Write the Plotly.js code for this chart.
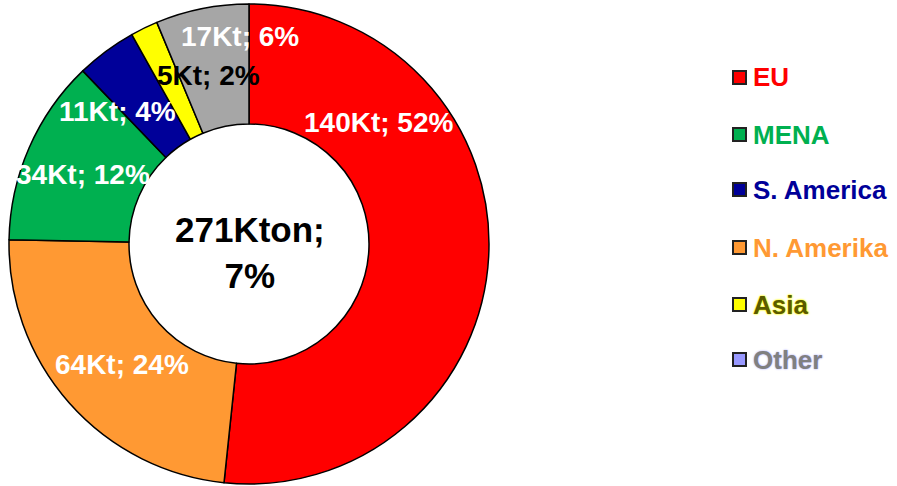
<!DOCTYPE html>
<html>
<head>
<meta charset="utf-8">
<script src="https://cdn.plot.ly/plotly-3.0.1.min.js"></script>
<style>html,body{margin:0;padding:0;background:#fff;}#chart{width:897px;height:486px;}</style>
</head>
<body>
<div id="chart"></div>
<script>
// Slice data (clockwise from 12 o'clock)
const sliceLabels = ["EU", "N. Amerika", "MENA", "S. America", "Asia", "Other"];
const sliceValues = [140, 64, 34, 11, 5, 17];
const slicePct = [52, 24, 12, 4, 2, 6];
const sliceColors = ["#FF0000", "#FF9933", "#00B050", "#000099", "#FFFF00", "#A6A6A6"];
const labelColors = ["#FFFFFF", "#FFFFFF", "#FFFFFF", "#FFFFFF", "#000000", "#FFFFFF"];
// Centre text
const totalKton = 271;
const totalShare = 7;
// Legend (as in the original)
const legendLabels = ["EU", "MENA", "S. America", "N. Amerika", "Asia", "Other"];
const legendSwatch = ["#FF0000", "#00B050", "#000099", "#FF9933", "#FFFF00", "#9999FF"];
const legendText = ["#FF0000", "#00B050", "#000099", "#FF9933", "#5A5A00", "#808080"];
const legendGlow = ["", "", "", "", "0px 0px 2px #FFFF00, 0px 0px 2px #FFFF00", "0px 0px 2px #9999FF"];

// Layout positions (pixels)
const W = 897, H = 486;
const px = x => x / W, py = y => 1 - y / H;
const labelPos = [[379, 122], [122, 364], [83, 174], [117, 111], [208, 76], [240, 36]];
const legendRowY = [77.5, 134.5, 189.5, 247.5, 304.5, 359.5];

const FONT = "Liberation Sans, Arial, sans-serif";

const trace = {
  type: "pie",
  labels: sliceLabels,
  values: sliceValues,
  sort: false,
  direction: "clockwise",
  rotation: 0,
  hole: 0.5,
  textinfo: "none",
  hoverinfo: "skip",
  showlegend: false,
  marker: { colors: sliceColors, line: { color: "#000000", width: 1.5 } },
  domain: { x: [px(9), px(489)], y: [py(484), py(4)] }
};

const annotations = [];
sliceLabels.forEach((l, i) => {
  annotations.push({
    xref: "paper", yref: "paper",
    x: px(labelPos[i][0]), y: py(labelPos[i][1]),
    xanchor: "center", yanchor: "middle",
    text: sliceValues[i] + "Kt; " + slicePct[i] + "%",
    showarrow: false,
    font: { family: FONT, size: 28, color: labelColors[i], weight: "bold" }
  });
});
annotations.push({
  xref: "paper", yref: "paper",
  x: px(250), y: py(252),
  xanchor: "center", yanchor: "middle",
  text: totalKton + "Kton;<br>" + totalShare + "%",
  showarrow: false,
  font: { family: FONT, size: 35, color: "#000000", weight: "bold" }
});

const shapes = [];
legendLabels.forEach((l, i) => {
  const cy = legendRowY[i];
  shapes.push({
    type: "rect", xref: "paper", yref: "paper",
    x0: px(733), x1: px(746), y0: py(cy + 6.5), y1: py(cy - 6.5),
    fillcolor: legendSwatch[i],
    line: { color: "#222222", width: 2 }
  });
  const f = { family: FONT, size: 26, color: legendText[i], weight: "bold" };
  if (legendGlow[i]) f.shadow = legendGlow[i];
  annotations.push({
    xref: "paper", yref: "paper",
    x: px(751), y: py(cy),
    xanchor: "left", yanchor: "middle",
    text: l,
    showarrow: false,
    font: f
  });
});

const layout = {
  width: W, height: H,
  margin: { l: 0, r: 0, t: 0, b: 0 },
  paper_bgcolor: "#FFFFFF",
  showlegend: false,
  annotations: annotations,
  shapes: shapes
};

Plotly.newPlot("chart", [trace], layout, { staticPlot: true, displayModeBar: false });
</script>
</body>
</html>
